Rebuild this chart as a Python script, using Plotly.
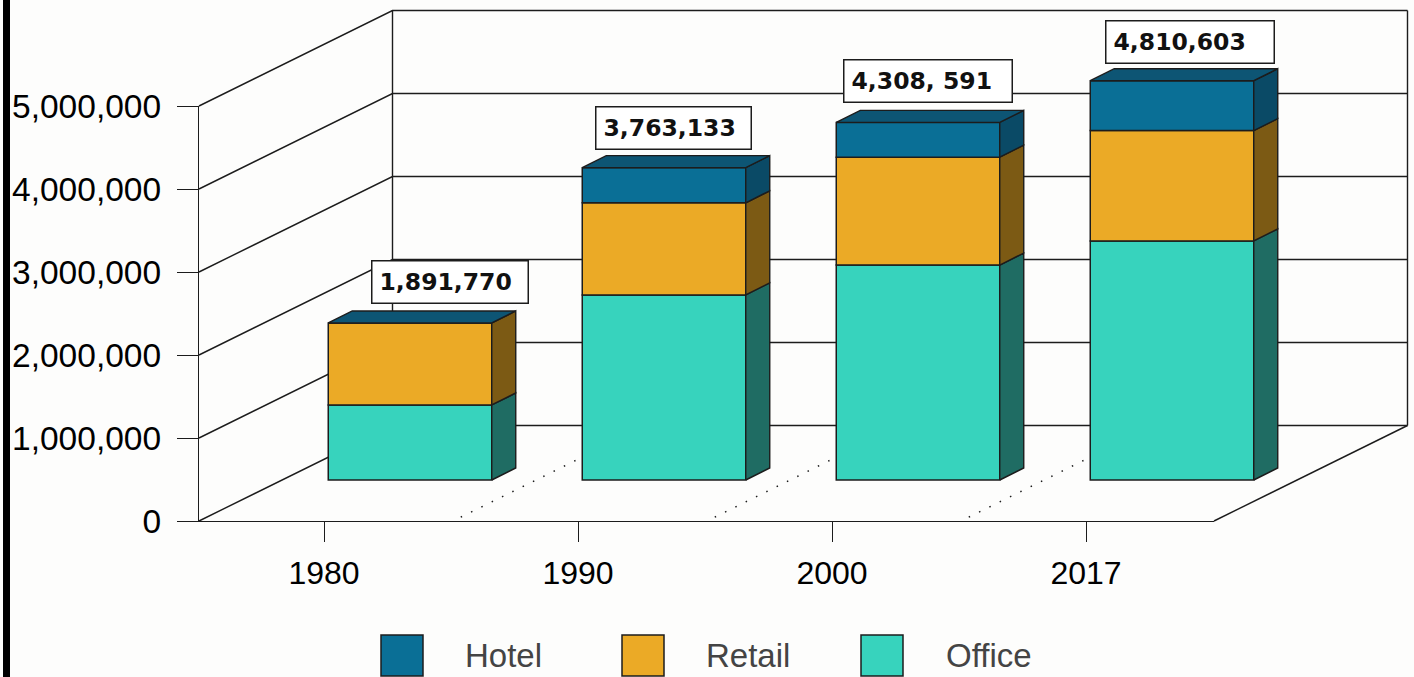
import plotly.graph_objects as go

# ---- data ----
categories = ["1980", "1990", "2000", "2017"]
office = [904000, 2230000, 2590000, 2880000]
retail = [987770, 1110000, 1300000, 1330000]
hotel = [0, 423133, 418591, 600603]
total_labels = ["1,891,770", "3,763,133", "4,308, 591", "4,810,603"]
y_ticks = [0, 1000000, 2000000, 3000000, 4000000, 5000000]
series_names = ["Hotel", "Retail", "Office"]

# ---- styles ----
W, H = 1414, 677
PX_X = 254.0            # pixels per category
PX_Y = 83.0 / 1e6       # pixels per unit of value
ORIGIN_X, ORIGIN_Y = 324.0, 521.0
AXIS_LEFT, AXIS_RIGHT, AXIS_TOP = 199.0, 1214.0, 106.0
INK = "#1c1c1c"
BG = "#fdfdfc"
FACE = {"Hotel": "#0a6f96", "Retail": "#ebaa26", "Office": "#37d3bd"}
SIDE = {"Hotel": "#0a4a66", "Retail": "#7c5a14", "Office": "#1f6c63"}
TOP = "#0d5574"
FLOOR_DX, FLOOR_DY = 193.5 / PX_X, 95.5 / PX_Y     # depth of the floor
BAR_DX, BAR_DY = 24 / PX_X, 12 / PX_Y              # depth of one bar
BAR_SHIFT_X, BAR_SHIFT_Y = 86 / PX_X, 41 / PX_Y    # bar position on the floor
BAR_W = 163.5 / PX_X
LABEL_SHIFT = [(39.5, 29), (9, 28), (10, 29), (17.5, 27)]
LABEL_W = [155, 154, 167, 167]
LABEL_H = 41
LABEL_PAD = 7
DOT_START = 0.04        # dotted floor lines start slightly into the floor

x_left = (AXIS_LEFT - ORIGIN_X) / PX_X
x_right = (AXIS_RIGHT - ORIGIN_X) / PX_X

fig = go.Figure()

# keeps the subplot with the native axes alive
fig.add_trace(go.Scatter(x=[x_left], y=[0], mode="none", showlegend=False, hoverinfo="skip",
                         xaxis="x", yaxis="y"))


def wall(xs, ys, dash="solid", width=1.4):
    fig.add_trace(go.Scatter(x=xs, y=ys, mode="lines", showlegend=False,
                             hoverinfo="skip", xaxis="x2", yaxis="y2",
                             line=dict(color=INK, width=width, dash=dash)))


# walls, floor
x_back_left = x_left + FLOOR_DX
x_back_right = x_right + FLOOR_DX
for v in y_ticks:
    wall([x_left, x_back_left, x_back_right], [v, v + FLOOR_DY, v + FLOOR_DY])
wall([x_back_left, x_back_left], [FLOOR_DY, y_ticks[-1] + FLOOR_DY])
wall([x_back_right, x_back_right], [FLOOR_DY, y_ticks[-1] + FLOOR_DY])
wall([x_right, x_back_right], [0, FLOOR_DY])
for i in range(len(categories) - 1):
    wall([x_left + i + 1 + DOT_START * FLOOR_DX, x_back_left + i + 1],
         [DOT_START * FLOOR_DY, FLOOR_DY], dash="1.5px,10px", width=1.5)


# bars: front faces through the library's bar scale
centers = [i + BAR_SHIFT_X for i in range(len(categories))]
stack = {"Office": office, "Retail": retail, "Hotel": hotel}
bases = [BAR_SHIFT_Y] * len(categories)
for name in ["Office", "Retail", "Hotel"]:
    vals = stack[name]
    fig.add_trace(go.Bar(x=centers, y=vals, base=bases, width=BAR_W, name=name,
                         marker=dict(color=FACE[name], line=dict(color=INK, width=1.5)),
                         xaxis="x3", yaxis="y3", showlegend=False))
    for i, c in enumerate(centers):
        if vals[i] <= 0:
            continue
        xr = c + BAR_W / 2
        b, t = bases[i], bases[i] + vals[i]
        fig.add_trace(go.Scatter(
            x=[xr, xr + BAR_DX, xr + BAR_DX, xr, xr],
            y=[b, b + BAR_DY, t + BAR_DY, t, b],
            mode="lines", fill="toself", fillcolor=SIDE[name], hoverinfo="skip",
            line=dict(color=INK, width=1.4), showlegend=False, xaxis="x3", yaxis="y3"))
    bases = [b + v for b, v in zip(bases, vals)]

for i, c in enumerate(centers):
    xl, xr = c - BAR_W / 2, c + BAR_W / 2
    t = bases[i]
    fig.add_trace(go.Scatter(
        x=[xl, xl + BAR_DX, xr + BAR_DX, xr, xl],
        y=[t, t + BAR_DY, t + BAR_DY, t, t],
        mode="lines", fill="toself", fillcolor=TOP, hoverinfo="skip",
        line=dict(color=INK, width=1.4), showlegend=False, xaxis="x3", yaxis="y3"))

annotations = []
for i, c in enumerate(centers):
    sx, sy = LABEL_SHIFT[i]
    annotations.append(dict(
        x=c, y=bases[i] + BAR_DY, xref="x3", yref="y3", xshift=sx, yshift=sy,
        text=total_labels[i], showarrow=False, xanchor="center", yanchor="middle",
        width=LABEL_W[i] - 2 * LABEL_PAD, height=LABEL_H - 2 * LABEL_PAD,
        bgcolor="#ffffff", bordercolor=INK, borderwidth=1.5,
        borderpad=LABEL_PAD, align="left", valign="middle",
        font=dict(family="DejaVu Sans", size=23.5, color="#111111", weight="bold")))

# legend
LEG_X = {"Hotel": (381, 423, 463), "Retail": (622, 664, 704), "Office": (861, 903, 944)}
shapes = [dict(type="rect", xref="paper", yref="paper", x0=3 / W, x1=10 / W, y0=0, y1=1,
               fillcolor="#000000", line=dict(width=0))]
for name in series_names:
    x0, x1, xt = LEG_X[name]
    shapes.append(dict(type="rect", xref="paper", yref="paper", x0=x0 / W, x1=x1 / W,
                       y0=1 - 676 / H, y1=1 - 635 / H, fillcolor=FACE[name],
                       line=dict(color=INK, width=1.5)))
    annotations.append(dict(x=xt / W, y=1 - 655 / H, xref="paper", yref="paper", text=name,
                            showarrow=False, xanchor="left", yanchor="middle",
                            font=dict(family="Liberation Sans", size=33, color="#444444")))

hidden = dict(domain=[0, 1], visible=False)
x_full = [-ORIGIN_X / PX_X, (W - ORIGIN_X) / PX_X]
y_full = [-(H - ORIGIN_Y) / PX_Y, ORIGIN_Y / PX_Y]

fig.update_layout(
    width=W, height=H, autosize=False,
    margin=dict(l=0, r=0, t=0, b=0, pad=0, autoexpand=False),
    paper_bgcolor=BG, plot_bgcolor="rgba(0,0,0,0)",
    barmode="overlay", showlegend=False, shapes=shapes, annotations=annotations,
    xaxis=dict(domain=[AXIS_LEFT / W, AXIS_RIGHT / W], range=[x_left, x_right], tickmode="array",
               tickvals=list(range(len(categories))), ticktext=categories, ticks="outside",
               ticklen=20, tickwidth=1.4, tickcolor=INK, showline=True, linecolor=INK,
               linewidth=1.4, showgrid=False, zeroline=False, ticklabelstandoff=3, automargin=False,
               tickfont=dict(family="Liberation Sans", size=32, color="#000000"), anchor="y"),
    yaxis=dict(domain=[1 - ORIGIN_Y / H, 1 - AXIS_TOP / H], range=[0, y_ticks[-1]], tickmode="array",
               tickvals=y_ticks, tickformat=",", ticks="outside", ticklen=21, tickwidth=1.4,
               tickcolor=INK, showline=True, linecolor=INK, linewidth=1.4, showgrid=False,
               zeroline=False, ticklabelstandoff=9, automargin=False,
               tickfont=dict(family="Liberation Sans", size=33.5, color="#000000"), anchor="x"),
    xaxis2=dict(range=x_full, anchor="y2", **hidden),
    yaxis2=dict(range=y_full, anchor="x2", **hidden),
    xaxis3=dict(range=x_full, anchor="y3", **hidden),
    yaxis3=dict(range=y_full, anchor="x3", **hidden),
)

fig.write_html("out.html", config={"displayModeBar": False},
               post_script="document.body.style.margin='0';")
